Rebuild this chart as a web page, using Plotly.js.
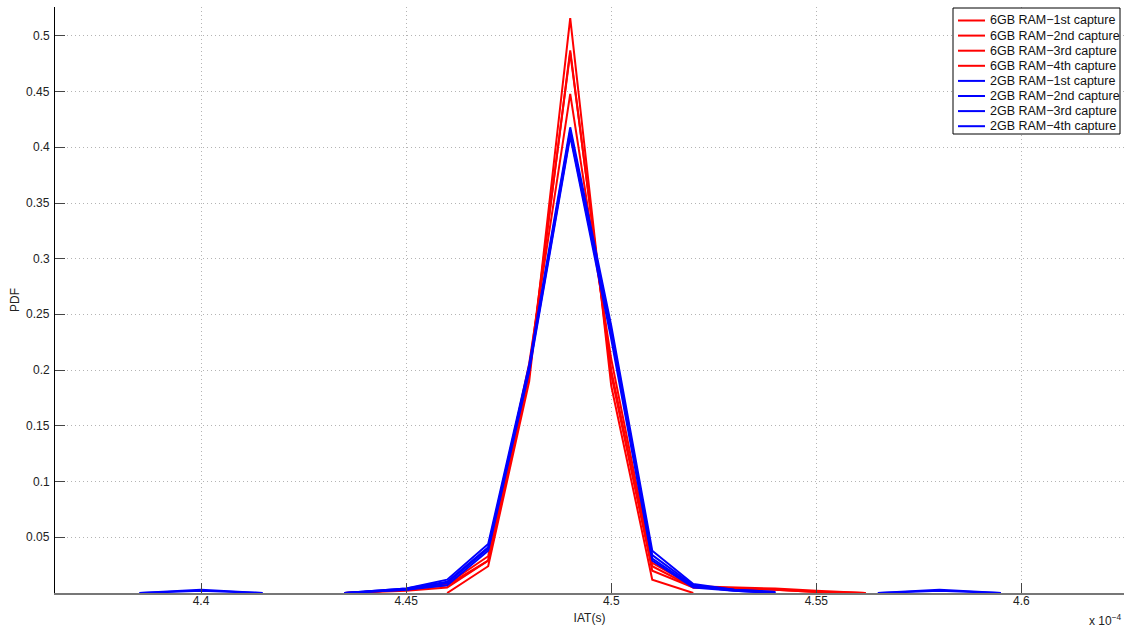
<!DOCTYPE html>
<html>
<head>
<meta charset="utf-8">
<script src="https://cdn.plot.ly/plotly-3.0.1.min.js"></script>
<style>html,body{margin:0;padding:0;background:#fff;}#chart{width:1130px;height:631px;}</style>
</head>
<body>
<div id="chart"></div>
<script>
// x values in units of 1e-4 s
const names = [
  "6GB RAM\u22121st capture", "6GB RAM\u22122nd capture", "6GB RAM\u22123rd capture", "6GB RAM\u22124th capture",
  "2GB RAM\u22121st capture", "2GB RAM\u22122nd capture", "2GB RAM\u22123rd capture", "2GB RAM\u22124th capture"
];

const xRed1 = [4.46, 4.47, 4.48, 4.49, 4.50, 4.51, 4.52];
const yRed1 = [0, 0.024, 0.19, 0.516, 0.186, 0.012, 0];

const xRed = [4.435, 4.45, 4.46, 4.47, 4.48, 4.49, 4.50, 4.51, 4.52, 4.53, 4.54, 4.55, 4.562];
const yRed2 = [0, 0.002, 0.005, 0.029, 0.196, 0.487, 0.196, 0.020, 0.005, 0.004, 0.003, 0.001, 0];
const yRed3 = [0, 0.003, 0.008, 0.033, 0.206, 0.448, 0.210, 0.027, 0.006, 0.005, 0.004, 0.002, 0];
const yRed4 = [0, 0.003, 0.007, 0.029, 0.200, 0.485, 0.200, 0.024, 0.005, 0.004, 0.003, 0.001, 0];

// null marks stretches where the PDF is zero (hidden under the axis line)
const xBlueWide = [4.385, 4.40, 4.415, null, 4.435, 4.45, 4.46, 4.47, 4.48, 4.49, 4.50, 4.51, 4.52, 4.53, 4.54, null, 4.565, 4.58, 4.595];
const yBlue1 = [0, 0.003, 0, null, 0, 0.004, 0.012, 0.044, 0.205, 0.418, 0.240, 0.038, 0.008, 0.003, 0.001, null, 0, 0.003, 0];
const yBlue2 = [0, 0.002, 0, null, 0, 0.004, 0.010, 0.041, 0.203, 0.415, 0.236, 0.034, 0.007, 0.003, 0.001, null, 0, 0.002, 0];
const xBlue = [4.435, 4.45, 4.46, 4.47, 4.48, 4.49, 4.50, 4.51, 4.52, 4.53, 4.54];
const yBlue3 = [0, 0.003, 0.009, 0.040, 0.201, 0.412, 0.232, 0.031, 0.006, 0.002, 0];
const yBlue4 = [0, 0.003, 0.007, 0.038, 0.199, 0.410, 0.228, 0.029, 0.005, 0.002, 0];

const xTicks = [4.4, 4.45, 4.5, 4.55, 4.6];
const yTicks = [0.05, 0.1, 0.15, 0.2, 0.25, 0.3, 0.35, 0.4, 0.45, 0.5];

const colors = ["#ff0000", "#ff0000", "#ff0000", "#ff0000", "#0000ff", "#0000ff", "#0000ff", "#0000ff"];
const series = [
  [xRed1, yRed1], [xRed, yRed2], [xRed, yRed3], [xRed, yRed4],
  [xBlueWide, yBlue1], [xBlueWide, yBlue2], [xBlue, yBlue3], [xBlue, yBlue4]
];

const traces = series.map((s, i) => ({
  x: s[0], y: s[1], name: names[i], type: "scatter", mode: "lines",
  line: {color: colors[i], width: 2}, connectgaps: false, showlegend: false
}));

const font = {family: "Liberation Sans, Arial, sans-serif", size: 12, color: "#222"};

// plot area in pixels (for the hand-drawn legend box and label placement)
const W = 1130, H = 631, ML = 55, MR = 6, MT = 7, MB = 38;
const PW = W - ML - MR, PH = H - MT - MB;
const px = X => (X - ML) / PW;
const py = Y => (H - MB - Y) / PH;

const shapes = [{
  type: "rect", xref: "paper", yref: "paper",
  x0: px(953), x1: px(1120), y0: py(134), y1: py(8),
  line: {color: "#000", width: 1}, fillcolor: "#fff", layer: "above"
}];
const annotations = [];
names.forEach((n, i) => {
  const yc = 20.5 + i * 15.1;
  shapes.push({
    type: "line", xref: "paper", yref: "paper",
    x0: px(958), x1: px(985), y0: py(yc), y1: py(yc),
    line: {color: colors[i], width: 2}, layer: "above"
  });
  annotations.push({
    xref: "paper", yref: "paper", x: px(988), y: py(yc), xanchor: "left", yanchor: "middle",
    text: n, showarrow: false, font: {family: "Liberation Sans, Arial, sans-serif", size: 12.5, color: "#111"}
  });
});
// y tick labels placed just left of the axis line
yTicks.forEach(v => {
  annotations.push({
    xref: "paper", yref: "y", x: px(52), y: v, xanchor: "right", yanchor: "middle",
    text: String(v), showarrow: false, font: font
  });
});
annotations.push({
  xref: "paper", yref: "paper", x: px(15), y: py(300), xanchor: "center", yanchor: "middle",
  text: "PDF", textangle: -90, showarrow: false, font: font
});
annotations.push({
  xref: "paper", yref: "paper", x: 1.0, y: py(630), xanchor: "right", yanchor: "bottom",
  text: "x 10<sup>\u22124</sup>", showarrow: false, font: font
});

const layout = {
  width: W, height: H,
  margin: {l: ML, r: MR, t: MT, b: MB},
  paper_bgcolor: "#fff", plot_bgcolor: "#fff",
  font: font,
  showlegend: false,
  xaxis: {
    range: [4.3644, 4.625],
    tickvals: xTicks, ticktext: xTicks.map(v => String(v)),
    ticks: "inside", ticklen: 10, tickcolor: "#444", tickwidth: 1,
    ticklabelstandoff: -4,
    showgrid: true, gridcolor: "#b4b4b4", griddash: "1px,3px", gridwidth: 1,
    showline: true, linecolor: "#777", linewidth: 2, layer: "above traces",
    zeroline: false,
    title: {text: "IAT(s)", font: font, standoff: 6},
    tickfont: font
  },
  yaxis: {
    range: [0, 0.526],
    tickvals: yTicks, showticklabels: false,
    ticks: "inside", ticklen: 10, tickcolor: "#444", tickwidth: 1,
    showgrid: true, gridcolor: "#b4b4b4", griddash: "1px,3px", gridwidth: 1,
    showline: true, linecolor: "#000", linewidth: 1,
    zeroline: false
  },
  shapes: shapes,
  annotations: annotations
};

Plotly.newPlot("chart", traces, layout, {displayModeBar: false, staticPlot: true});
</script>
</body>
</html>
